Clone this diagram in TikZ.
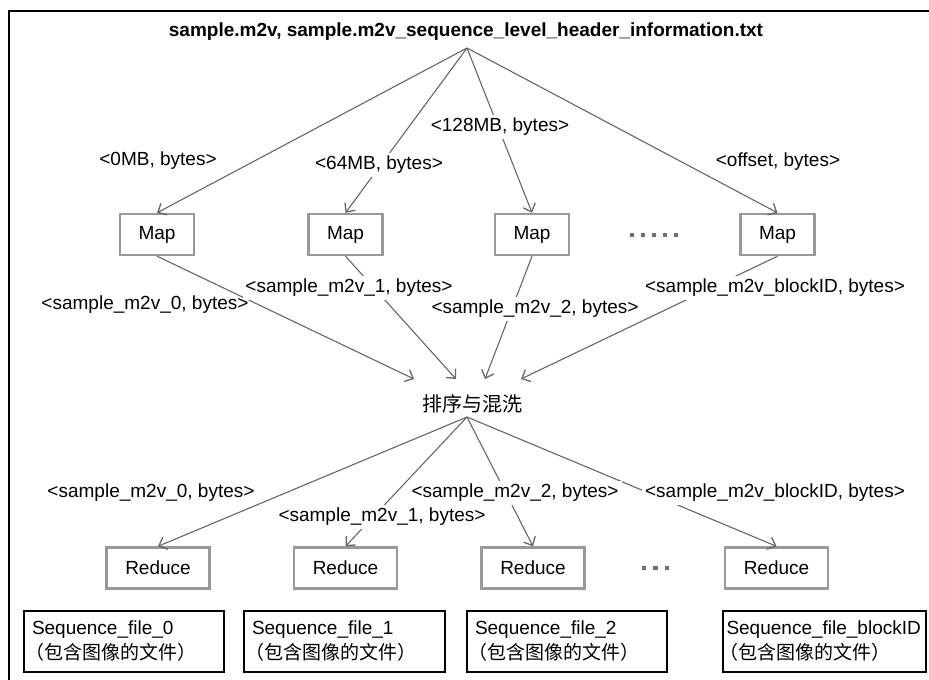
\documentclass[tikz,border=0pt]{standalone}
\usepackage{fontspec}
\setmainfont{Liberation Sans}
\newfontfamily\cjk{Noto Sans CJK SC}
\usetikzlibrary{arrows.meta}
\definecolor{arr}{HTML}{666666}
\definecolor{boxg}{HTML}{999999}
\definecolor{dotg}{HTML}{707070}
\newcommand{\cjkline}{{\cjk\hspace{-7pt}（包含图像的文件）}}
\begin{document}
\begin{tikzpicture}[x=1pt,y=-1pt,
  txt/.style={font=\fontsize{19}{22}\selectfont},
  lbl/.style={txt, fill=white, inner sep=3pt},
  mapbox/.style={draw=boxg, line width=2.4pt, minimum width=74pt, minimum height=41pt, txt, inner sep=0pt},
  redbox/.style={mapbox, minimum width=103pt},
  seqbox/.style={draw=black, line width=1.2pt, minimum height=61pt, align=left, font=\fontsize{19}{25}\selectfont, inner ysep=4pt},
  conn/.style={draw=arr, line width=1.1pt, -{Straight Barb[length=7pt,width=13pt,line width=1.3pt]}},
  dotsq/.style={fill=dotg, draw=none, minimum size=4.5pt, inner sep=0pt}]
\useasboundingbox (0,0) rectangle (929,680);
\draw[line width=2.2pt, line cap=rect] (929,11) -- (9,11) -- (9,680);

% title
\node[font=\bfseries\fontsize{19}{22}\selectfont] (title) at (466,32) {sample.m2v, sample.m2v\_sequence\_level\_header\_information.txt};
\coordinate (a1) at (467,48);

% map boxes
\node[mapbox] (m1) at (157,234.5) {Map};
\node[mapbox] (m2) at (345.5,234.5) {Map};
\node[mapbox] (m3) at (532,234.5) {Map};
\node[mapbox] (m4) at (777.5,234.5) {Map};
\foreach \i [count=\k] in {632,643,654,665,676} \node[dotsq] (d\k) at (\i,235) {};

% shuffle
\node[font=\cjk\fontsize{20}{24}\selectfont] (shuf) at (472,404) {排序与混洗};
\coordinate (t1) at (414,379);
\coordinate (t2) at (456,379);
\coordinate (t3) at (485,379);
\coordinate (t4) at (521,379);
\coordinate (a2) at (467,417);

% reduce boxes
\node[redbox] (r1) at (158,568) {Reduce};
\node[redbox] (r2) at (345.5,568) {Reduce};
\node[redbox] (r3) at (533,568) {Reduce};
\node[redbox] (r4) at (776.5,568) {Reduce};
\foreach \i [count=\k] in {644,655.5,667} \node[dotsq] (e\k) at (\i,568) {};

% sequence files
\node[seqbox, text width=184pt, inner xsep=8pt] (s1) at (124,641.5) {Sequence\_file\_0\\\cjkline};
\node[seqbox, text width=185pt, inner xsep=8pt] (s2) at (344.5,641.5) {Sequence\_file\_1\\\cjkline};
\node[seqbox, text width=184pt, inner xsep=8pt] (s3) at (567,641.5) {Sequence\_file\_2\\\cjkline};
\node[seqbox, text width=196pt, inner xsep=3.5pt] (s4) at (824.5,641.5) {Sequence\_file\_blockID\\\cjkline};

% connectors
\draw[conn] (a1) -- (m1.north);
\draw[conn] (a1) -- (m2.north);
\draw[conn] (a1) -- (m3.north);
\draw[conn] (a1) -- (m4.north);
\draw[conn] (m1.south) -- (t1);
\draw[conn] (m2.south) -- (t2);
\draw[conn] (m3.south) -- (t3);
\draw[conn] (m4.south) -- (t4);
\draw[conn] (a2) -- (r1.north);
\draw[conn] (a2) -- (r2.north);
\draw[conn] (a2) -- (r3.north);
\draw[conn] (a2) -- (r4.north);

% labels
\node[lbl] (l1) at (158,161) {<0MB, bytes>};
\node[lbl] (l2) at (379,165) {<64MB, bytes>};
\node[lbl] (l3) at (500,127) {<128MB, bytes>};
\node[lbl] (l4) at (778,162) {<offset, bytes>};
\node[lbl, fill=none] (k1) at (145,305) {<sample\_m2v\_0, bytes>};
\node[lbl] (k2) at (349,288) {<sample\_m2v\_1, bytes>};
\node[lbl] (k3) at (535,309) {<sample\_m2v\_2, bytes>};
\node[lbl] (k4) at (775,288) {<sample\_m2v\_blockID, bytes>};
\node[lbl, fill=none] (j1) at (151,493) {<sample\_m2v\_0, bytes>};
\node[lbl] (j2) at (382,517) {<sample\_m2v\_1, bytes>};
\node[lbl] (j3) at (515,493) {<sample\_m2v\_2, bytes>};
\node[lbl] (j4) at (775,493) {<sample\_m2v\_blockID, bytes>};
\end{tikzpicture}
\end{document}
